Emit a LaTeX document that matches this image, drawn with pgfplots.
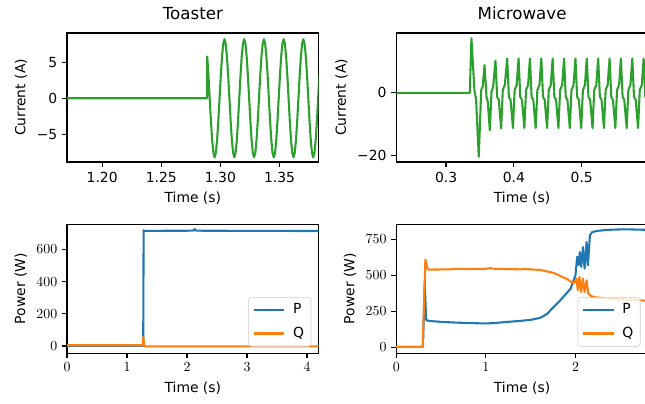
\documentclass[border=0pt]{standalone}
\usepackage{fontspec}
\setmainfont{DejaVu Sans}
\usepackage{pgfplots}
\pgfplotsset{compat=1.18}

\definecolor{mplblue}{HTML}{1F77B4}
\definecolor{mplorange}{HTML}{FF7F0E}
\definecolor{mplgreen}{HTML}{2CA02C}

\pgfplotsset{
  mpl/.style={
    scale only axis, width=181.2pt, height=92.9pt,
    anchor=south west,
    axis line style={line width=0.8pt},
    tick align=outside, major tick length=3.5pt,
    tick style={black, line width=0.8pt},
    xtick pos=left, ytick pos=left,
    ticklabel style={font=\fontsize{10}{12}\selectfont},
    label style={font=\fontsize{10}{12}\selectfont},
    title style={font=\fontsize{12}{14}\selectfont},
    xlabel={Time (s)},
    every axis plot/.append style={line width=1.5pt, line join=round},
    legend cell align=left,
    legend image code/.code={\draw[#1] (0pt,0pt) -- (22pt,0pt);},
    legend style={at={(1,0)}, anchor=south east, xshift=-5.3pt, yshift=4.8pt,
      draw=black!20, rounded corners=2pt, fill=white, fill opacity=0.8,
      text opacity=1, font=\fontsize{10}{12}\selectfont,
      inner xsep=3pt, inner ysep=2pt, row sep=2.3pt, column sep=3.5pt,
      nodes={inner sep=2pt, text height=8pt, text depth=2.5pt}},
  }
}

\begin{document}
\begin{tikzpicture}

% Toaster current
\begin{axis}[mpl, at={(48.24pt,173.52pt)},
  title={Toaster}, ylabel={Current (A)},
  xmin=1.1703, xmax=1.383, ymin=-8.85, ymax=9.07,
  xtick={1.20,1.25,1.30,1.35}, xticklabels={1.20,1.25,1.30,1.35},
  ytick={-5,0,5}, yticklabels={−5,0,5}]
\addplot[mplgreen] coordinates {
(1.1700,0) (1.2887,0)
(1.28882,5.80) (1.28986,3.14) (1.29090,0) (1.29194,-3.14) (1.29298,-5.80) (1.29403,-7.58)
(1.29507,-8.20) (1.29611,-7.58) (1.29715,-5.80) (1.29819,-3.14) (1.29923,0) (1.30028,3.14)
(1.30132,5.80) (1.30236,7.58) (1.30340,8.20)
(1.30444,7.58) (1.30548,5.80) (1.30653,3.14) (1.30757,0) (1.30861,-3.14) (1.30965,-5.80)
(1.31069,-7.58) (1.31173,-8.20) (1.31278,-7.58) (1.31382,-5.80) (1.31486,-3.14) (1.31590,0)
(1.31694,3.14) (1.31798,5.80) (1.31903,7.58) (1.32007,8.20)
(1.32111,7.58) (1.32215,5.80) (1.32320,3.14) (1.32424,0) (1.32528,-3.14) (1.32632,-5.80)
(1.32736,-7.58) (1.32840,-8.20) (1.32945,-7.58) (1.33049,-5.80) (1.33153,-3.14) (1.33257,0)
(1.33361,3.14) (1.33465,5.80) (1.33570,7.58) (1.33673,8.20)
(1.33777,7.58) (1.33881,5.80) (1.33986,3.14) (1.34090,0) (1.34194,-3.14) (1.34298,-5.80)
(1.34402,-7.58) (1.34506,-8.20) (1.34611,-7.58) (1.34715,-5.80) (1.34819,-3.14) (1.34923,0)
(1.35027,3.14) (1.35131,5.80) (1.35236,7.58) (1.35340,8.20)
(1.35444,7.58) (1.35548,5.80) (1.35653,3.14) (1.35757,0) (1.35861,-3.14) (1.35965,-5.80)
(1.36069,-7.58) (1.36173,-8.20) (1.36278,-7.58) (1.36382,-5.80) (1.36486,-3.14) (1.36590,0)
(1.36694,3.14) (1.36798,5.80) (1.36903,7.58) (1.37007,8.20)
(1.37111,7.58) (1.37215,5.80) (1.37320,3.14) (1.37424,0) (1.37528,-3.14) (1.37632,-5.80)
(1.37736,-7.58) (1.37840,-8.20) (1.37945,-7.58) (1.38049,-5.80) (1.38153,-3.14) (1.38257,0)
(1.38361,3.14)
};
\end{axis}

% Microwave current
\begin{axis}[mpl, at={(285.3pt,173.52pt)},
  title={Microwave}, ylabel={Current (A)},
  xmin=0.2266, xmax=0.5975, ymin=-22.2, ymax=19.2,
  xtick={0.3,0.4,0.5}, xticklabels={0.3,0.4,0.5},
  ytick={-20,0}, yticklabels={−20,0}]
\addplot[mplgreen] coordinates {
(0.2200,0) (0.3350,0) (0.3374,17.5) (0.3418,0.9) (0.3443,-2.3) (0.3482,-20.5)
(0.3518,0.9) (0.3540,2.0) (0.3567,8.9) (0.3596,-1.3) (0.3615,-2.9) (0.3645,-12.0)
(0.3670,0.3) (0.3694,1.9) (0.3728,10.3) (0.3753,-1.3) (0.3777,-2.3) (0.3812,-11.4)
(0.3836,0.9) (0.3866,2.5)
(0.3901,11.0) (0.3926,-1.3) (0.3951,-2.3) (0.3986,-11.3) (0.4011,0.9) (0.4041,2.5)
(0.4069,11.0) (0.4094,-1.3) (0.4119,-2.3) (0.4154,-11.3) (0.4179,0.9) (0.4209,2.5)
(0.4236,11.0) (0.4261,-1.3) (0.4286,-2.3) (0.4321,-11.3) (0.4346,0.9) (0.4376,2.5)
(0.4404,11.0) (0.4429,-1.3) (0.4454,-2.3) (0.4489,-11.3) (0.4514,0.9) (0.4544,2.5)
(0.4571,11.0) (0.4596,-1.3) (0.4621,-2.3) (0.4656,-11.3) (0.4681,0.9) (0.4711,2.5)
(0.4739,11.0) (0.4764,-1.3) (0.4789,-2.3) (0.4824,-11.3) (0.4849,0.9) (0.4879,2.5)
(0.4907,11.0) (0.4932,-1.3) (0.4957,-2.3) (0.4992,-11.3) (0.5017,0.9) (0.5047,2.5)
(0.5074,11.0) (0.5099,-1.3) (0.5124,-2.3) (0.5159,-11.3) (0.5184,0.9) (0.5214,2.5)
(0.5242,11.0) (0.5267,-1.3) (0.5292,-2.3) (0.5327,-11.3) (0.5352,0.9) (0.5382,2.5)
(0.5410,11.0) (0.5435,-1.3) (0.5460,-2.3) (0.5495,-11.3) (0.5520,0.9) (0.5550,2.5)
(0.5577,11.0) (0.5602,-1.3) (0.5627,-2.3) (0.5662,-11.3) (0.5687,0.9) (0.5717,2.5)
(0.5745,11.0) (0.5770,-1.3) (0.5795,-2.3) (0.5830,-11.3) (0.5855,0.9) (0.5885,2.5)
(0.5912,11.0) (0.5937,-1.3) (0.5962,-2.3) (0.5997,-11.3) (0.6022,0.9)
};
\end{axis}

% Toaster power
\begin{axis}[mpl, at={(48.24pt,35.8pt)},
  ylabel={Power (W)},
  xmin=0, xmax=4.194, ymin=-45, ymax=757,
  xtick={0,1,2,3,4}, ytick={0,200,400,600}]
\addplot[mplblue] coordinates {
(0,1) (1.270,1) (1.277,720) (1.290,716) (2.10,717) (2.13,727) (2.15,717) (3.0,716) (4.2,715)
};
\addlegendentry{P}
\addplot[mplorange] coordinates {
(0,5) (1.265,5) (1.272,58) (1.285,10) (1.300,-2) (4.2,-2)
};
\addlegendentry{Q}
\end{axis}

% Microwave power
\begin{axis}[mpl, at={(285.3pt,35.8pt)},
  ylabel={Power (W)},
  xmin=0, xmax=2.807, ymin=-42, ymax=854,
  xtick={0,1,2}, ytick={0,250,500,750}]
\addplot[mplblue] coordinates {
(0,2) (0.298,2) (0.318,450) (0.333,190) (0.36,183) (0.50,176) (0.67,171) (0.80,168)
(1.00,165) (1.10,168) (1.20,174) (1.385,183) (1.50,190) (1.61,205) (1.684,232)
(1.72,257) (1.83,326) (1.945,407) (1.999,500) (2.018,628) (2.033,570) (2.048,661)
(2.063,558) (2.082,696) (2.101,546) (2.123,731) (2.138,569) (2.160,777) (2.186,800)
(2.242,808) (2.354,815) (2.54,819) (2.81,815)
};
\addlegendentry{P}
\addplot[mplorange] coordinates {
(0,3) (0.295,3) (0.325,609) (0.352,539) (0.60,541) (0.70,545) (0.80,542) (1.00,545)
(1.05,549) (1.10,544) (1.385,541) (1.45,543) (1.61,536) (1.758,516) (1.908,472)
(1.98,442) (2.010,477) (2.025,396) (2.043,488) (2.063,384) (2.082,477) (2.101,384)
(2.123,465) (2.142,373) (2.170,357) (2.21,347) (2.36,338) (2.54,333) (2.81,322)
};
\addlegendentry{Q}
\end{axis}

\pgfresetboundingbox
\useasboundingbox (0,0) rectangle (464.4pt,290.16pt);
\end{tikzpicture}
\end{document}
